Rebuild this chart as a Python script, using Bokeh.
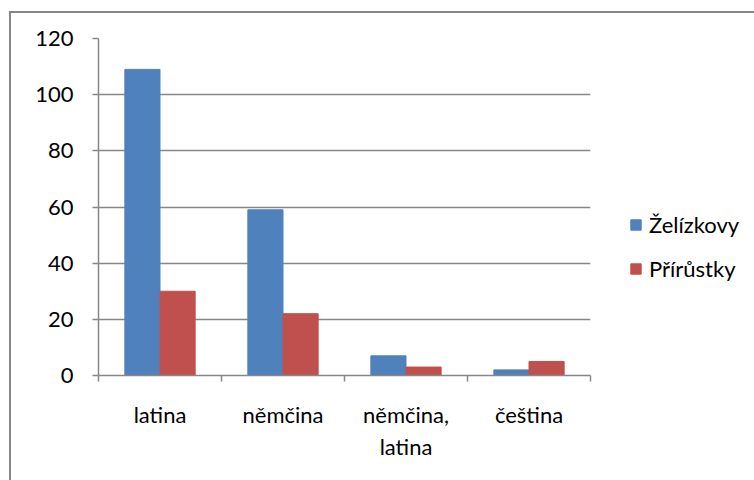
from bokeh.plotting import figure
from bokeh.models import (Range1d, FixedTicker, Legend, LegendItem,
                          ColumnDataSource)
from bokeh.embed import file_html
from bokeh.resources import INLINE

categories = ["latina", "němčina", "němčina,\nlatina", "čeština"]
zelizkovy = [109, 59, 7, 2]
prirustky = [30, 22, 3, 5]
y_ticks = [0, 20, 40, 60, 80, 100, 120]
series_names = ["Želízkovy", "Přírůstky"]
colors = ["#4F81BD", "#C0504D"]

FONT = "Lato"
FS = "22px"
GRAY = "#878787"

p = figure(frame_width=492, frame_height=337, output_backend="svg",
           toolbar_location=None,
           x_range=Range1d(0, len(categories)), y_range=Range1d(0, 120),
           min_border_left=87, min_border_right=100, min_border_top=25,
           min_border_bottom=105)
p.margin = (11, 0, 0, 9)
p.styles = {"border-left": "2px solid " + GRAY, "border-top": "2px solid " + GRAY}
p.outline_line_color = None
p.background_fill_color = "white"
p.border_fill_color = "white"

bw = 1 / 3.5
xs = [i + 0.5 for i in range(len(categories))]
src = ColumnDataSource(dict(
    xb=[x - bw / 2 for x in xs], xr=[x + bw / 2 for x in xs],
    zel=zelizkovy, pri=prirustky))
r1 = p.vbar(x="xb", top="zel", width=bw, bottom=0, source=src,
            fill_color=colors[0], line_color=colors[0])
r2 = p.vbar(x="xr", top="pri", width=bw, bottom=0, source=src,
            fill_color=colors[1], line_color=colors[1])

# x axis: labels at category centres, tick marks at category boundaries
p.xaxis.ticker = FixedTicker(ticks=xs, minor_ticks=list(range(len(categories) + 1)))
p.xaxis.major_label_overrides = {x: c for x, c in zip(xs, categories)}
p.xaxis.major_tick_out = 0
p.xaxis.major_tick_in = 0
p.xaxis.minor_tick_out = 6
p.xaxis.minor_tick_in = 0
p.xaxis.minor_tick_line_color = GRAY
p.xaxis.minor_tick_line_width = 1.5
p.xaxis.axis_line_color = GRAY
p.xaxis.axis_line_width = 1.5
p.xaxis.major_label_standoff = 19
p.xaxis.major_label_text_font = FONT
p.xaxis.major_label_text_font_size = FS
p.xaxis.major_label_text_color = "black"

p.yaxis.ticker = FixedTicker(ticks=y_ticks)
p.yaxis.major_tick_out = 6
p.yaxis.major_tick_in = 0
p.yaxis.minor_tick_line_color = None
p.yaxis.axis_line_color = GRAY
p.yaxis.major_tick_line_color = GRAY
p.yaxis.axis_line_width = 1.5
p.yaxis.major_tick_line_width = 1.5
p.yaxis.major_label_standoff = 19
p.yaxis.major_label_text_font = FONT
p.yaxis.major_label_text_font_size = FS
p.yaxis.major_label_text_color = "black"

p.xgrid.grid_line_color = None
p.ygrid.ticker = FixedTicker(ticks=y_ticks)
p.ygrid.grid_line_color = GRAY
p.ygrid.grid_line_width = 1.5

legend = Legend(items=[LegendItem(label=series_names[0], renderers=[r1]),
                       LegendItem(label=series_names[1], renderers=[r2])],
                location=(39, 93))
legend.padding = 0
legend.margin = 0
legend.border_line_alpha = 0
legend.background_fill_alpha = 0
legend.glyph_width = 13
legend.glyph_height = 13
legend.label_standoff = 7
legend.label_height = 22
legend.spacing = 17
legend.label_text_font = FONT
legend.label_text_font_size = FS
legend.label_text_color = "black"
p.add_layout(legend, "right")

open("out.html", "w").write(file_html(p, INLINE))
